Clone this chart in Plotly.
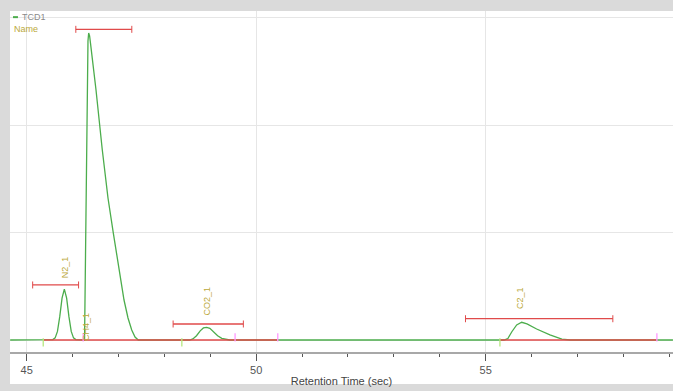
import plotly.graph_objects as go

# ---- chromatogram trace (TCD1) ----
time_s = [44.64,
          45.57, 45.62, 45.67, 45.72, 45.77, 45.82, 45.87, 45.92, 45.97, 46.02, 46.07,
          46.26, 46.275, 46.295, 46.315, 46.335, 46.35, 46.37, 46.39, 46.51, 46.647, 46.771,
          46.887, 47.011, 47.12, 47.207, 47.288, 47.36, 47.43,
          48.55, 48.62, 48.70, 48.78, 48.85, 48.92, 48.99, 49.07, 49.16, 49.25, 49.35, 49.42,
          55.40, 55.48, 55.57, 55.675, 55.784, 55.90, 56.11, 56.40, 56.66, 56.84,
          59.08]
signal = [0.0,
          0.004, 0.02, 0.08, 0.217, 0.39, 0.474, 0.39, 0.217, 0.08, 0.02, 0.004,
          0.0, 0.6, 1.77, 2.45, 2.78, 2.856, 2.83, 2.76, 2.326, 1.767, 1.321,
          0.995, 0.651, 0.372, 0.205, 0.093, 0.028, 0.0,
          0.0, 0.01, 0.04, 0.085, 0.112, 0.118, 0.108, 0.075, 0.04, 0.015, 0.003, 0.0,
          0.0, 0.012, 0.077, 0.140, 0.165, 0.150, 0.102, 0.047, 0.009, 0.0,
          0.0]

# ---- peak names and integration windows ----
peak_names = ["N2_1", "CH4_1", "CO2_1", "C2_1"]
label_time = [45.82, 46.29, 48.93, 55.75]
label_base = [0.56, -0.028, 0.205, 0.27]
window_start = [45.13, 46.07, 48.19, 54.56]
window_end = [46.13, 47.29, 49.72, 57.77]
window_level = [0.512, 2.89, 0.149, 0.198]

# ---- integration baselines and markers ----
baseline_start = [45.36, 55.31]
baseline_end = [50.47, 58.73]
red_marks = [45.36, 48.38, 55.31]
blue_marks = [46.23, 49.54, 50.47, 58.73]

GREEN = "#4cad4c"
RED = "#e04a4a"
BLUE = "#5a5ae0"
OLIVE = "#bba83a"

fig = go.Figure()

fig.add_trace(go.Scatter(x=time_s, y=signal, mode="lines",
                         line=dict(color=GREEN, width=1.3), hoverinfo="skip"))

for s, e in zip(baseline_start, baseline_end):
    fig.add_trace(go.Scatter(x=[s, e], y=[0, 0], mode="lines",
                             line=dict(color=RED, width=1.4), hoverinfo="skip"))

for s, e, lv in zip(window_start, window_end, window_level):
    fig.add_trace(go.Scatter(x=[s, e], y=[lv, lv], mode="lines+markers",
                             line=dict(color=RED, width=1.3),
                             marker=dict(symbol="line-ns-open", size=5,
                                         line=dict(color=RED, width=1)),
                             hoverinfo="skip"))

fig.add_trace(go.Scatter(x=red_marks, y=[-0.022] * len(red_marks), mode="markers",
                         marker=dict(symbol="line-ns-open", size=6,
                                     line=dict(color=RED, width=1.3)),
                         hoverinfo="skip"))
fig.add_trace(go.Scatter(x=blue_marks, y=[0.024] * len(blue_marks), mode="markers",
                         marker=dict(symbol="line-ns-open", size=6,
                                     line=dict(color=BLUE, width=1.3)),
                         hoverinfo="skip"))

for name, t, b in zip(peak_names, label_time, label_base):
    fig.add_annotation(x=t, y=b, text=name, textangle=-90, showarrow=False,
                       xanchor="center", yanchor="bottom",
                       font=dict(family="Liberation Sans", size=9, color=OLIVE))

# legend-like header
fig.add_annotation(xref="paper", yref="paper", x=0.015, y=0.982, text="TCD1",
                   showarrow=False, xanchor="left", yanchor="middle",
                   font=dict(family="Liberation Sans", size=9, color="#8a8a8a"))
fig.add_annotation(xref="paper", yref="paper", x=0.003, y=0.947, text="Name",
                   showarrow=False, xanchor="left", yanchor="middle",
                   font=dict(family="Liberation Sans", size=9, color=OLIVE))
fig.add_shape(type="line", xref="paper", yref="paper", x0=0.0045, x1=0.012,
              y0=0.982, y1=0.982, line=dict(color=GREEN, width=2))

# grey frame
FR = "#dadada"
fig.add_shape(type="rect", xref="paper", yref="paper", x0=-0.0151, x1=1.0,
              y0=1.0, y1=1.04, fillcolor=FR, line=dict(width=0), layer="above")
fig.add_shape(type="rect", xref="paper", yref="paper", x0=-0.0151, x1=0.0,
              y0=-0.12, y1=1.04, fillcolor=FR, line=dict(width=0), layer="above")
fig.add_shape(type="rect", xref="paper", yref="paper", x0=-0.0151, x1=1.0,
              y0=-0.12, y1=-0.0938, fillcolor=FR, line=dict(width=0), layer="above")

fig.update_layout(
    width=673, height=391,
    margin=dict(l=10, r=0, t=11, b=39),
    paper_bgcolor="white", plot_bgcolor="white",
    showlegend=False,
    font=dict(family="Liberation Sans", color="#555555"),
    xaxis=dict(range=[44.636, 59.081], tick0=45, dtick=5,
               showgrid=True, gridcolor="#e6e6e6", gridwidth=1,
               zeroline=False, showline=True, linecolor="#a8a8a8", linewidth=2,
               ticks="outside", ticklen=7, tickcolor="#555555", tickwidth=1,
               tickfont=dict(size=11, color="#555555"),
               minor=dict(dtick=1, tick0=45, ticks="outside", ticklen=3,
                          tickcolor="#555555", showgrid=False),
               title=dict(text="Retention Time (sec)", standoff=2,
                          font=dict(size=11, color="#444444"))),
    yaxis=dict(range=[-0.1116, 3.0605], dtick=1, tick0=0,
               showgrid=True, gridcolor="#e6e6e6", zeroline=False,
               showticklabels=False, showline=False, ticks=""),
)

fig.write_html("out.html")
